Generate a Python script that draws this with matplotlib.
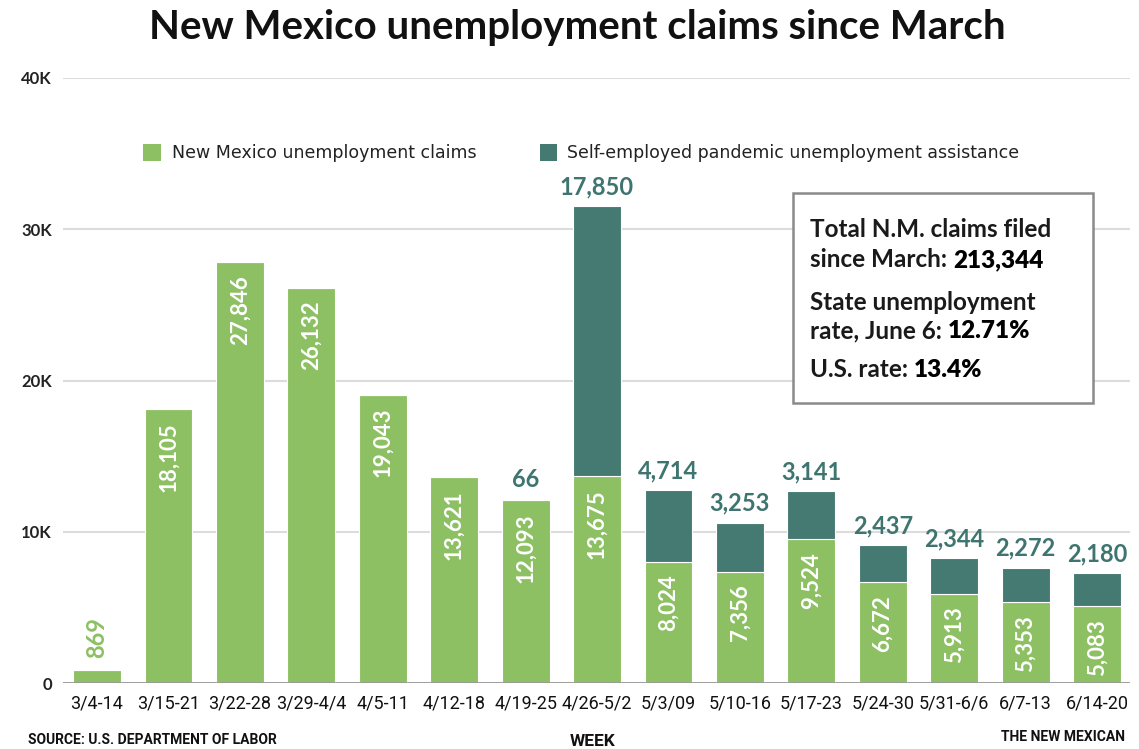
import matplotlib
matplotlib.use("Agg")
import matplotlib.pyplot as plt
from matplotlib import font_manager
from matplotlib.patches import Rectangle

weeks = ["3/4-14", "3/15-21", "3/22-28", "3/29-4/4", "4/5-11", "4/12-18", "4/19-25",
         "4/26-5/2", "5/3/09", "5/10-16", "5/17-23", "5/24-30", "5/31-6/6", "6/7-13", "6/14-20"]
nm_claims = [869, 18105, 27846, 26132, 19043, 13621, 12093, 13675, 8024, 7356, 9524,
             6672, 5913, 5353, 5083]
pua_claims = [0, 0, 0, 0, 0, 0, 66, 17850, 4714, 3253, 3141, 2437, 2344, 2272, 2180]
y_ticks = [0, 10000, 20000, 30000, 40000]
y_tick_labels = ["0", "10K", "20K", "30K", "40K"]

LIGHT = "#8dc063"
DARK = "#457a72"
LABEL_DARK = "#3f7570"

avail = {f.name for f in font_manager.fontManager.ttflist}
NARROW = "Liberation Sans Narrow" if "Liberation Sans Narrow" in avail else "Roboto"
MAIN = "Lato" if "Lato" in avail else "DejaVu Sans"

W, H = 1139, 749
fig = plt.figure(figsize=(W / 100, H / 100), dpi=100)
ax = fig.add_axes([63 / W, 1 - 683 / H, (1130 - 63) / W, (683 - 78) / H])

x = list(range(len(weeks)))
bw = 0.67
ax.bar(x, nm_claims, width=bw, color=LIGHT, edgecolor="white", linewidth=0.8, zorder=3)
ax.bar(x, pua_claims, width=bw, bottom=nm_claims, color=DARK, edgecolor="white",
       linewidth=0.8, zorder=3)

ax.set_ylim(0, 40000)
ax.set_xlim(-0.476, 14.462)
ax.set_yticks(y_ticks)
ax.set_yticklabels(y_tick_labels, fontsize=12, fontweight="bold", family=MAIN, color="#222222")
ax.set_xticks(x)
ax.set_xticklabels(weeks, fontsize=13, family=NARROW, color="#111111")
ax.tick_params(axis="both", length=0)
ax.tick_params(axis="y", pad=8)
ax.tick_params(axis="x", pad=8)
for s in ax.spines.values():
    s.set_visible(False)
ax.grid(axis="y", color="#dcdcdc", linewidth=1.5, zorder=0)
ax.axhline(0, color="#999999", linewidth=2, zorder=4)

px = 40000 / (683 - 78)  # data units per pixel

for i, (a, b) in enumerate(zip(nm_claims, pua_claims)):
    if a > 3000:
        ax.text(i, a - 13 * px, f"{a:,}", rotation=90, ha="center", va="top",
                color="white", fontsize=16, fontweight="bold", family=MAIN, zorder=5)
    else:
        ax.text(i, a + 12 * px, f"{a:,}", rotation=90, ha="center", va="bottom",
                color=LIGHT, fontsize=17, fontweight="bold", family=MAIN, zorder=5)
    if b > 0:
        ax.text(i, a + b + 8 * px, f"{b:,}", ha="center", va="bottom",
                color=LABEL_DARK, fontsize=17, fontweight="bold", family=MAIN, zorder=5)

# Title
fig.text(577 / W, 1 - 28 / H, "New Mexico unemployment claims since March", ha="center",
         va="center", fontsize=29, fontweight="bold", family=MAIN, color="#111111")

# Legend
fig.add_artist(Rectangle((143 / W, 1 - 161 / H), 18 / W, 17 / H, transform=fig.transFigure,
                         facecolor=LIGHT, edgecolor="none"))
fig.text(172 / W, 1 - 153 / H, "New Mexico unemployment claims", ha="left", va="center",
         fontsize=12.5, family="DejaVu Sans", color="#222222")
fig.add_artist(Rectangle((540 / W, 1 - 161 / H), 17 / W, 17 / H, transform=fig.transFigure,
                         facecolor=DARK, edgecolor="none"))
fig.text(567 / W, 1 - 153 / H, "Self-employed pandemic unemployment assistance", ha="left",
         va="center", fontsize=12.5, family="DejaVu Sans", color="#222222")

# Info box
fig.add_artist(Rectangle((793 / W, 1 - 403 / H), 300 / W, 210 / H, transform=fig.transFigure,
                         facecolor="white", edgecolor="#8a8a8a", linewidth=1.8, zorder=10))
box_lines = [
    (237, "Total N.M. claims filed", ""),
    (267, "since March: ", "213,344"),
    (310, "State unemployment", ""),
    (338, "rate, June 6: ", "12.71%"),
    (377, "U.S. rate: ", "13.4%"),
]
fig.canvas.draw()
renderer = fig.canvas.get_renderer()
for yb, t1, t2 in box_lines:
    t = fig.text(810 / W, 1 - yb / H, t1, ha="left", va="baseline", fontsize=17.5,
                 fontweight="bold", family=MAIN, color="#1a1a1a", zorder=11)
    if t2:
        bb = t.get_window_extent(renderer=renderer)
        fig.text(bb.x1 / W, 1 - yb / H, t2, ha="left", va="baseline", fontsize=17.5,
                 fontweight="heavy", family=MAIN, color="#000000", zorder=11)

# Footer
fig.text(28 / W, 1 - 740 / H, "SOURCE: U.S. DEPARTMENT OF LABOR", ha="left", va="center",
         fontsize=10, fontweight="bold", family=NARROW, color="#111111")
fig.text(593 / W, 1 - 742 / H, "WEEK", ha="center", va="center",
         fontsize=12.5, fontweight="bold", family=NARROW, color="#111111")
fig.text(1125 / W, 1 - 737 / H, "THE NEW MEXICAN", ha="right", va="center",
         fontsize=10, fontweight="bold", family=NARROW, color="#111111")

fig.savefig("out.png", dpi=100)
